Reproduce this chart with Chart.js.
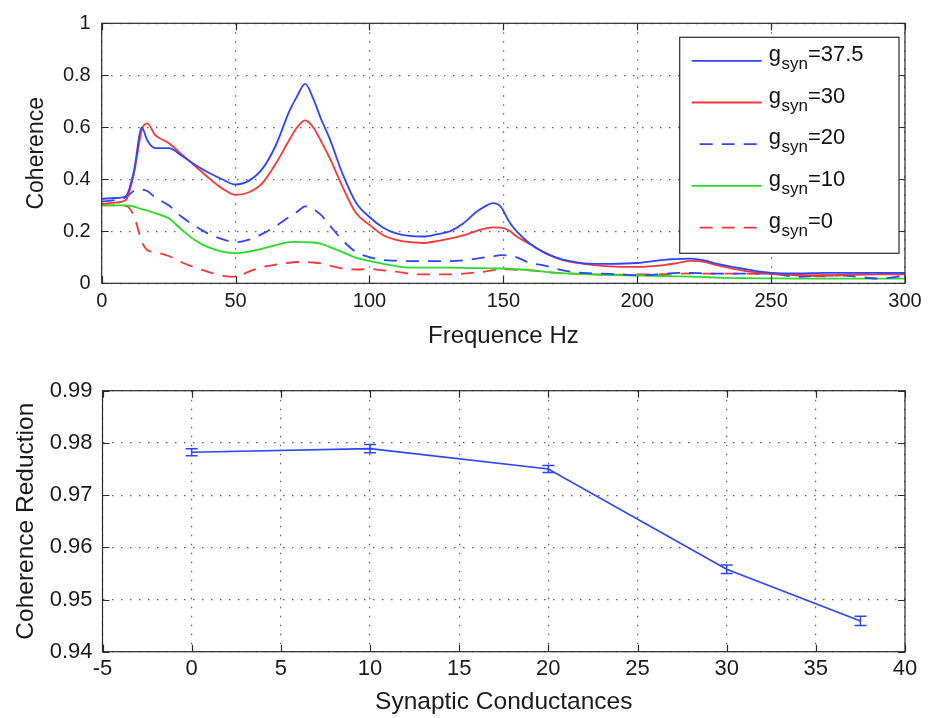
<!DOCTYPE html>
<html>
<head>
<meta charset="utf-8">
<script src="https://cdn.jsdelivr.net/npm/chart.js@4"></script>
<style>
  html, body { margin: 0; padding: 0; background: #fff; }
  #wrap { position: relative; width: 935px; height: 718px; }
  canvas { position: absolute; left: 0; }
  #c1 { top: 0; }
  #c2 { top: 360px; }
</style>
</head>
<body>
<div id="wrap">
  <canvas id="c1" width="935" height="360"></canvas>
  <canvas id="c2" width="935" height="358"></canvas>
</div>
<script>
// ---------- DATA (top panel) ----------
const freqHz = [0,5,9,12,15,17,20,25,30,35,40,45,50,55,60,65,70,73,76,79,82,85,90,95,100,105,110,115,120,125,130,135,140,143,146,149,152,155,160,165,170,175,180,190,200,210,215,220,225,230,240,250,260,270,280,290,300];
const gsynValues = ['37.5','30','20','10','0'];
const coh375 = [0.325,0.328,0.335,0.43,0.60,0.55,0.52,0.52,0.49,0.455,0.425,0.40,0.38,0.395,0.44,0.53,0.66,0.72,0.767,0.71,0.63,0.56,0.42,0.31,0.255,0.215,0.192,0.182,0.18,0.188,0.20,0.23,0.275,0.295,0.308,0.295,0.24,0.20,0.152,0.12,0.098,0.085,0.077,0.075,0.078,0.09,0.093,0.095,0.088,0.075,0.055,0.04,0.038,0.04,0.04,0.04,0.04];
const coh30  = [0.305,0.31,0.32,0.42,0.59,0.615,0.57,0.54,0.495,0.45,0.405,0.365,0.34,0.35,0.385,0.46,0.55,0.60,0.627,0.60,0.545,0.485,0.37,0.27,0.225,0.186,0.167,0.158,0.155,0.162,0.172,0.184,0.202,0.21,0.215,0.214,0.204,0.18,0.15,0.12,0.097,0.082,0.075,0.065,0.063,0.07,0.078,0.086,0.082,0.069,0.048,0.037,0.032,0.031,0.033,0.034,0.034];
const coh20  = [0.315,0.32,0.33,0.355,0.36,0.355,0.33,0.30,0.255,0.22,0.19,0.17,0.158,0.168,0.19,0.22,0.255,0.275,0.296,0.285,0.262,0.225,0.165,0.12,0.101,0.09,0.087,0.085,0.085,0.085,0.085,0.088,0.095,0.10,0.103,0.108,0.107,0.10,0.078,0.069,0.055,0.045,0.04,0.036,0.031,0.036,0.04,0.04,0.038,0.037,0.037,0.037,0.025,0.03,0.028,0.018,0.03];
const coh10  = [0.30,0.30,0.30,0.295,0.285,0.28,0.27,0.25,0.205,0.165,0.138,0.122,0.116,0.122,0.133,0.147,0.158,0.159,0.158,0.157,0.152,0.14,0.12,0.098,0.086,0.075,0.066,0.06,0.06,0.06,0.06,0.059,0.058,0.058,0.057,0.057,0.056,0.054,0.05,0.045,0.04,0.037,0.035,0.032,0.03,0.028,0.027,0.026,0.024,0.022,0.02,0.019,0.018,0.018,0.018,0.018,0.018];
const coh0   = [0.30,0.30,0.298,0.26,0.16,0.128,0.12,0.105,0.08,0.06,0.043,0.03,0.025,0.045,0.062,0.072,0.079,0.082,0.082,0.08,0.076,0.068,0.057,0.053,0.055,0.05,0.045,0.037,0.034,0.034,0.034,0.037,0.042,0.045,0.05,0.053,0.054,0.052,0.05,0.045,0.04,0.038,0.036,0.033,0.034,0.035,0.037,0.038,0.037,0.037,0.037,0.035,0.03,0.027,0.033,0.036,0.037];
const topXTicks = [0,50,100,150,200,250,300];
const topYTicks = [0,0.2,0.4,0.6,0.8,1];

// ---------- DATA (bottom panel) ----------
const synCond = [0,10,20,30,37.5];
const cohReduction = [0.9782,0.9789,0.9750,0.9558,0.9459];
const cohReductionErr = [0.00068,0.0008,0.00068,0.0008,0.00087];
const botXTicks = [-5,0,5,10,15,20,25,30,35,40];
const botYTicks = [0.94,0.95,0.96,0.97,0.98,0.99];

const FONT = '"Liberation Sans", Arial, Helvetica, sans-serif';
Chart.defaults.font.family = FONT;
Chart.defaults.color = '#1a1a1a';

const BLUE = 'rgb(45,70,250)';
const RED = 'rgb(250,55,55)';
const GREEN = 'rgb(40,220,40)';
const DASH = [13, 9];

// frame + inward ticks on all four sides (MATLAB "box on")
const framePlugin = {
  id: 'matlabFrame',
  afterDatasetsDraw(chart) {
    const {ctx, chartArea: a, scales: {x, y}} = chart;
    const L = 7;
    ctx.save();
    ctx.setLineDash([]);
    ctx.strokeStyle = '#2a2a2a';
    ctx.lineWidth = 1.2;
    ctx.strokeRect(a.left, a.top, a.right - a.left, a.bottom - a.top);
    ctx.beginPath();
    x.ticks.forEach(t => {
      const px = Math.round(x.getPixelForValue(t.value)) + 0.5;
      ctx.moveTo(px, a.bottom); ctx.lineTo(px, a.bottom - L);
      ctx.moveTo(px, a.top); ctx.lineTo(px, a.top + L);
    });
    y.ticks.forEach(t => {
      const py = Math.round(y.getPixelForValue(t.value)) + 0.5;
      ctx.moveTo(a.left, py); ctx.lineTo(a.left + L, py);
      ctx.moveTo(a.right, py); ctx.lineTo(a.right - L, py);
    });
    ctx.stroke();
    ctx.restore();
  }
};

// legend with subscripted "syn"
const legendPlugin = {
  id: 'synLegend',
  afterDraw(chart) {
    const {ctx, chartArea: a} = chart;
    const l = a.left + 578, t = a.top + 14, r = a.right - 6, b = a.top + 230;
    ctx.save();
    ctx.fillStyle = '#fff';
    ctx.fillRect(l, t, r - l, b - t);
    ctx.strokeStyle = '#2a2a2a';
    ctx.lineWidth = 1.2;
    ctx.setLineDash([]);
    ctx.strokeRect(l, t, r - l, b - t);
    chart.data.datasets.forEach((ds, i) => {
      const yb = t + 23.5 + i * 41.7;
      ctx.strokeStyle = ds.borderColor;
      ctx.lineWidth = ds.borderWidth;
      ctx.setLineDash(ds.borderDash || []);
      ctx.beginPath();
      ctx.moveTo(ds.borderDash ? l + 20 : l + 12, yb);
      ctx.lineTo(l + 82, yb);
      ctx.stroke();
      ctx.setLineDash([]);
      ctx.fillStyle = '#111';
      ctx.textAlign = 'left';
      ctx.textBaseline = 'alphabetic';
      let xx = l + 89;
      ctx.font = '22px ' + FONT;
      ctx.fillText('g', xx, yb);
      xx += ctx.measureText('g').width + 0.5;
      ctx.font = '17px ' + FONT;
      ctx.fillText('syn', xx, yb + 8);
      xx += ctx.measureText('syn').width;
      ctx.font = '22px ' + FONT;
      ctx.fillText('=' + gsynValues[i], xx, yb);
    });
    ctx.restore();
  }
};

// error bars drawn through the chart's scales
const errorBarPlugin = {
  id: 'errorBars',
  afterDatasetsDraw(chart) {
    const {ctx, scales: {x, y}} = chart;
    const cap = 6;
    ctx.save();
    ctx.strokeStyle = BLUE;
    ctx.lineWidth = 1.5;
    ctx.setLineDash([]);
    ctx.beginPath();
    synCond.forEach((g, i) => {
      const px = x.getPixelForValue(g);
      const y1 = y.getPixelForValue(cohReduction[i] - cohReductionErr[i]);
      const y2 = y.getPixelForValue(cohReduction[i] + cohReductionErr[i]);
      ctx.moveTo(px, y1); ctx.lineTo(px, y2);
      ctx.moveTo(px - cap, y1); ctx.lineTo(px + cap, y1);
      ctx.moveTo(px - cap, y2); ctx.lineTo(px + cap, y2);
    });
    ctx.stroke();
    ctx.restore();
  }
};

function gridOpts() {
  return { color: 'rgba(40,40,40,0.75)', lineWidth: 1.2, drawTicks: false };
}
function borderOpts() {
  return { display: false, dash: [1.5, 7.5] };
}

const toPts = arr => freqHz.map((f, i) => ({x: f, y: arr[i]}));
const topSeries = [
  {vals: coh375, color: BLUE, dash: null},
  {vals: coh30, color: RED, dash: null},
  {vals: coh20, color: BLUE, dash: DASH},
  {vals: coh10, color: GREEN, dash: null},
  {vals: coh0, color: RED, dash: DASH}
];

new Chart(document.getElementById('c1'), {
  type: 'line',
  data: {
    datasets: topSeries.map((s, i) => {
      const d = {
        label: 'gsyn=' + gsynValues[i],
        data: toPts(s.vals),
        borderColor: s.color,
        borderWidth: 1.8,
        pointRadius: 0,
        fill: false,
        cubicInterpolationMode: 'monotone'
      };
      if (s.dash) d.borderDash = s.dash;
      return d;
    })
  },
  options: {
    responsive: false,
    maintainAspectRatio: false,
    animation: false,
    layout: { padding: { left: 0, right: 30, top: 23.3, bottom: 0 } },
    plugins: { legend: { display: false }, tooltip: { enabled: false } },
    scales: {
      x: {
        type: 'linear', min: 0, max: 300,
        afterBuildTicks: sc => { sc.ticks = topXTicks.map(v => ({value: v})); },
        afterFit: sc => { sc.height = 76.7; },
        ticks: { font: { size: 20 }, padding: 6.4, maxRotation: 0, callback: v => String(v) },
        grid: gridOpts(), border: borderOpts(),
        title: { display: true, text: 'Frequence Hz', font: { size: 24 }, padding: { top: 0, bottom: 9.3 } }
      },
      y: {
        type: 'linear', min: 0, max: 1,
        afterBuildTicks: sc => { sc.ticks = topYTicks.map(v => ({value: v})); },
        afterFit: sc => { sc.width = 101.7; },
        ticks: { font: { size: 20 }, padding: 11, callback: v => String(Math.round(v * 10) / 10) },
        grid: gridOpts(), border: borderOpts(),
        title: { display: true, text: 'Coherence', font: { size: 23 }, padding: { top: 22.7, bottom: 0 } }
      }
    }
  },
  plugins: [framePlugin, legendPlugin]
});

new Chart(document.getElementById('c2'), {
  type: 'line',
  data: {
    datasets: [{
      label: 'Coherence Reduction',
      data: synCond.map((g, i) => ({x: g, y: cohReduction[i]})),
      borderColor: BLUE,
      borderWidth: 1.6,
      pointRadius: 0,
      fill: false,
      tension: 0
    }]
  },
  options: {
    responsive: false,
    maintainAspectRatio: false,
    animation: false,
    layout: { padding: { left: 0, right: 30, top: 30.7, bottom: 0 } },
    plugins: { legend: { display: false }, tooltip: { enabled: false } },
    scales: {
      x: {
        type: 'linear', min: -5, max: 40,
        afterBuildTicks: sc => { sc.ticks = botXTicks.map(v => ({value: v})); },
        afterFit: sc => { sc.height = 66.3; },
        ticks: { font: { size: 22 }, padding: 4.1, maxRotation: 0, callback: v => String(v) },
        grid: gridOpts(), border: borderOpts(),
        title: { display: true, text: 'Synaptic Conductances', font: { size: 24.5 }, padding: { top: 0, bottom: 1.3 } }
      },
      y: {
        type: 'linear', min: 0.94, max: 0.99,
        afterBuildTicks: sc => { sc.ticks = botYTicks.map(v => ({value: v})); },
        afterFit: sc => { sc.width = 102.5; },
        ticks: { font: { size: 22 }, padding: 10, callback: v => Number(v).toFixed(2) },
        grid: gridOpts(), border: borderOpts(),
        title: { display: true, text: 'Coherence Reduction', font: { size: 24.5 }, padding: { top: 11.3, bottom: 0 } }
      }
    }
  },
  plugins: [framePlugin, errorBarPlugin]
});
</script>
</body>
</html>
